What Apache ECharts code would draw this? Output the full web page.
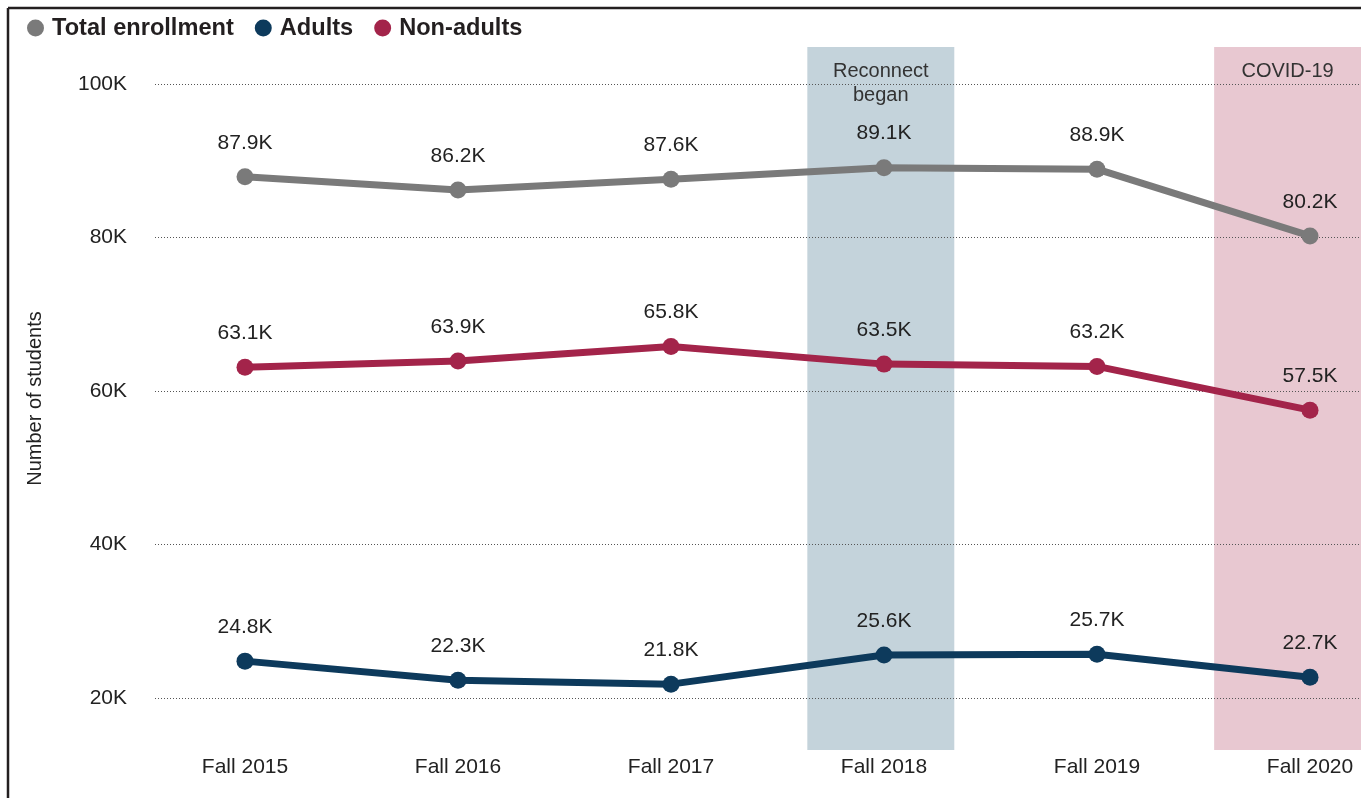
<!DOCTYPE html>
<html>
<head>
<meta charset="utf-8">
<script src="https://cdn.jsdelivr.net/npm/echarts@6/dist/echarts.min.js"></script>
<style>
  html, body { margin: 0; padding: 0; background: #ffffff; }
  #chart { width: 1361px; height: 798px; }
</style>
</head>
<body>
<div id="chart"></div>
<script>
// Fall enrollment, in thousands of students
const categories = ['Fall 2015', 'Fall 2016', 'Fall 2017', 'Fall 2018', 'Fall 2019', 'Fall 2020'];
const totalEnrollment = [87.9, 86.2, 87.6, 89.1, 88.9, 80.2];
const adults = [24.8, 22.3, 21.8, 25.6, 25.7, 22.7];
const nonAdults = [63.1, 63.9, 65.8, 63.5, 63.2, 57.5];
const yTicks = [20, 40, 60, 80, 100];

// Highlighted periods, as ranges on the category index scale
const reconnectBand = [2.64, 3.33];
const covidBand = [4.55, 5.24];

const FONT = "'Liberation Sans', Arial, sans-serif";
const X_MIN = -0.4225, X_MAX = 5.2394;

const toPoints = arr => arr.map((v, i) => [i, v]);

const labelCfg = {
  show: true,
  position: 'top',
  distance: 15,
  fontFamily: FONT,
  fontSize: 21,
  color: '#222222',
  formatter: p => p.value[1].toFixed(1) + 'K'
};

function lineSeries(name, values, color) {
  return {
    name: name,
    type: 'line',
    data: toPoints(values),
    symbol: 'circle',
    symbolSize: 17,
    showAllSymbol: true,
    lineStyle: { width: 7, color: color },
    itemStyle: { color: color },
    label: labelCfg,
    emphasis: { disabled: true },
    z: 3
  };
}

const chart = echarts.init(document.getElementById('chart'), null, { renderer: 'canvas' });

chart.setOption({
  animation: false,
  backgroundColor: '#ffffff',
  textStyle: { fontFamily: FONT },
  legend: {
    left: 22,
    top: 11,
    icon: 'circle',
    itemWidth: 17,
    itemHeight: 17,
    itemGap: 21,
    textStyle: { fontFamily: FONT, fontSize: 23.6, fontWeight: 'bold', color: '#231f20', padding: [0, 0, 0, 3] },
    data: ['Total enrollment', 'Adults', 'Non-adults']
  },
  grid: { left: 155, right: 0, top: 47, bottom: 48, containLabel: false },
  xAxis: {
    type: 'value',
    min: X_MIN,
    max: X_MAX,
    axisLine: { show: false },
    axisTick: { show: false, customValues: [0, 1, 2, 3, 4, 5] },
    splitLine: { show: false },
    axisLabel: {
      customValues: [0, 1, 2, 3, 4, 5],
      margin: 7,
      fontFamily: FONT,
      fontSize: 21,
      color: '#222222',
      formatter: v => categories[Math.round(v)]
    }
  },
  yAxis: {
    type: 'value',
    min: 13.22,
    max: 104.82,
    z: 2,
    name: 'Number of students',
    nameLocation: 'middle',
    nameRotate: 90,
    nameGap: 110,
    nameTextStyle: { fontFamily: FONT, fontSize: 20, color: '#222222' },
    axisLine: { show: false },
    axisTick: { show: false, customValues: yTicks },
    axisLabel: {
      customValues: yTicks,
      margin: 28,
      fontFamily: FONT,
      fontSize: 21,
      color: '#222222',
      formatter: v => v + 'K'
    },
    splitLine: { show: true, lineStyle: { type: [1, 2], color: '#555555', width: 1 } }
  },
  series: [
    {
      name: 'bands',
      type: 'line',
      data: [],
      silent: true,
      z: -2,
      markArea: {
        silent: true,
        z: -2,
        label: {
          position: 'insideTop',
          distance: 12,
          fontFamily: FONT,
          fontSize: 20,
          lineHeight: 24,
          color: '#333333'
        },
        data: [
          [{ name: 'Reconnect\nbegan', xAxis: reconnectBand[0], itemStyle: { color: '#c4d3db' } }, { xAxis: reconnectBand[1] }],
          [{ name: 'COVID-19', xAxis: covidBand[0], itemStyle: { color: '#e8c8d1' } }, { xAxis: covidBand[1] }]
        ]
      }
    },
    lineSeries('Total enrollment', totalEnrollment, '#7a7a7a'),
    lineSeries('Adults', adults, '#0d3a5c'),
    lineSeries('Non-adults', nonAdults, '#a3244a')
  ],
  graphic: [
    { type: 'line', shape: { x1: 8, y1: 8, x2: 1361, y2: 8 }, style: { stroke: '#231f20', lineWidth: 2.5 }, z: 10 },
    { type: 'line', shape: { x1: 8, y1: 8, x2: 8, y2: 798 }, style: { stroke: '#231f20', lineWidth: 2.5 }, z: 10 }
  ]
});
</script>
</body>
</html>
